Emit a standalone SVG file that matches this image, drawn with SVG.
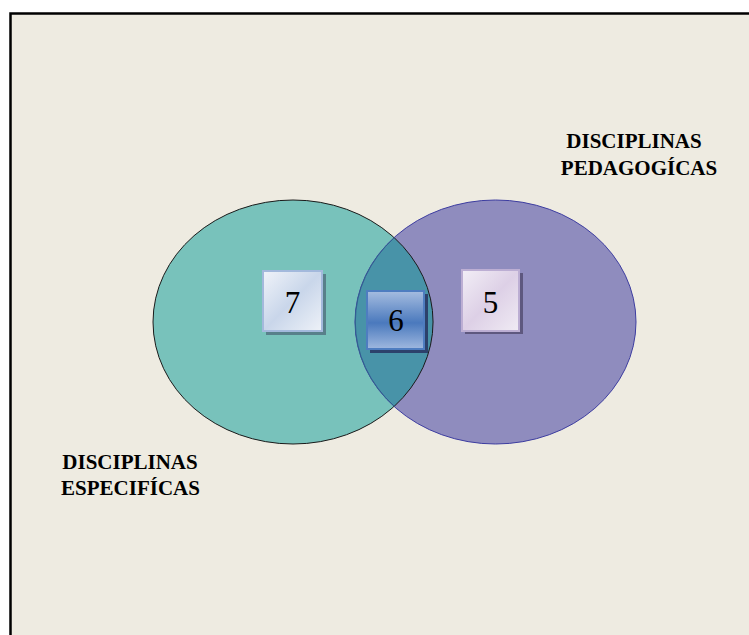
<svg xmlns="http://www.w3.org/2000/svg" width="749" height="635" viewBox="0 0 749 635">
<defs>
<linearGradient id="g7" x1="0" y1="0" x2="1" y2="1">
<stop offset="0" stop-color="#f0f3f9"/><stop offset="0.5" stop-color="#c9d6ea"/><stop offset="1" stop-color="#eef2f8"/>
</linearGradient>
<linearGradient id="g6" x1="0" y1="0" x2="0" y2="1">
<stop offset="0" stop-color="#a6bde0"/><stop offset="0.55" stop-color="#4a79bd"/><stop offset="1" stop-color="#9fb8df"/>
</linearGradient>
<linearGradient id="g5" x1="0" y1="0" x2="1" y2="1">
<stop offset="0" stop-color="#f2eef6"/><stop offset="0.5" stop-color="#ddd0e6"/><stop offset="1" stop-color="#f0ebf4"/>
</linearGradient>
<style>
.lbl{font-family:"Liberation Serif","Times New Roman",serif;font-weight:bold;font-size:21px;fill:#000;text-anchor:middle}
.num{font-family:"Liberation Serif","Times New Roman",serif;font-size:31px;fill:#000;text-anchor:middle}
</style>
</defs>
<rect x="0" y="0" width="749" height="635" fill="#ffffff"/>
<rect x="10.5" y="13.5" width="745" height="630" fill="#eeebe1" stroke="#000" stroke-width="2.5"/>
<g id="set-especificas">
<ellipse cx="293" cy="322" rx="140" ry="122" fill="#78c2bb" stroke="#1a1a1a" stroke-width="1"/>
</g>
<g id="set-pedagogicas">
<ellipse cx="495.5" cy="322" rx="140.5" ry="122" fill="#8f8cbe" stroke="#3d3da0" stroke-width="1"/>
</g>
<g id="intersection">
<path d="M394.25 237.7 A140 122 0 0 1 394.25 406.3 A140.5 122 0 0 1 394.25 237.7 Z" fill="#4893a8"/>
<path d="M394.25 237.7 A140 122 0 0 1 394.25 406.3" fill="none" stroke="#1a1a1a" stroke-width="1"/>
<path d="M394.25 406.3 A140.5 122 0 0 1 394.25 237.7" fill="none" stroke="#2f5f90" stroke-width="1"/>
</g>
<g id="box-7">
<rect x="266" y="274" width="60" height="61" fill="#58808a"/>
<rect x="263" y="271" width="59" height="60" fill="url(#g7)" stroke="#a3b9dc" stroke-width="2"/>
<text class="num" x="292.5" y="313">7</text>
</g>
<g id="box-6">
<rect x="370" y="294" width="58" height="59" fill="#2c416b"/>
<rect x="367" y="291" width="57" height="58" fill="url(#g6)" stroke="#4e7dc0" stroke-width="2"/>
<text class="num" x="396" y="331">6</text>
</g>
<g id="box-5">
<rect x="465" y="273" width="58" height="61" fill="#5e587f"/>
<rect x="462" y="270" width="57" height="61" fill="url(#g5)" stroke="#bcaed3" stroke-width="2"/>
<text class="num" x="490.5" y="313">5</text>
</g>
<g id="label-pedagogicas">
<text class="lbl" x="634" y="148">DISCIPLINAS</text>
<text class="lbl" x="639" y="175">PEDAGOGÍCAS</text>
</g>
<g id="label-especificas">
<text class="lbl" x="130" y="469">DISCIPLINAS</text>
<text class="lbl" x="130.5" y="495">ESPECIFÍCAS</text>
</g>
<g id="connectors"></g>
</svg>
